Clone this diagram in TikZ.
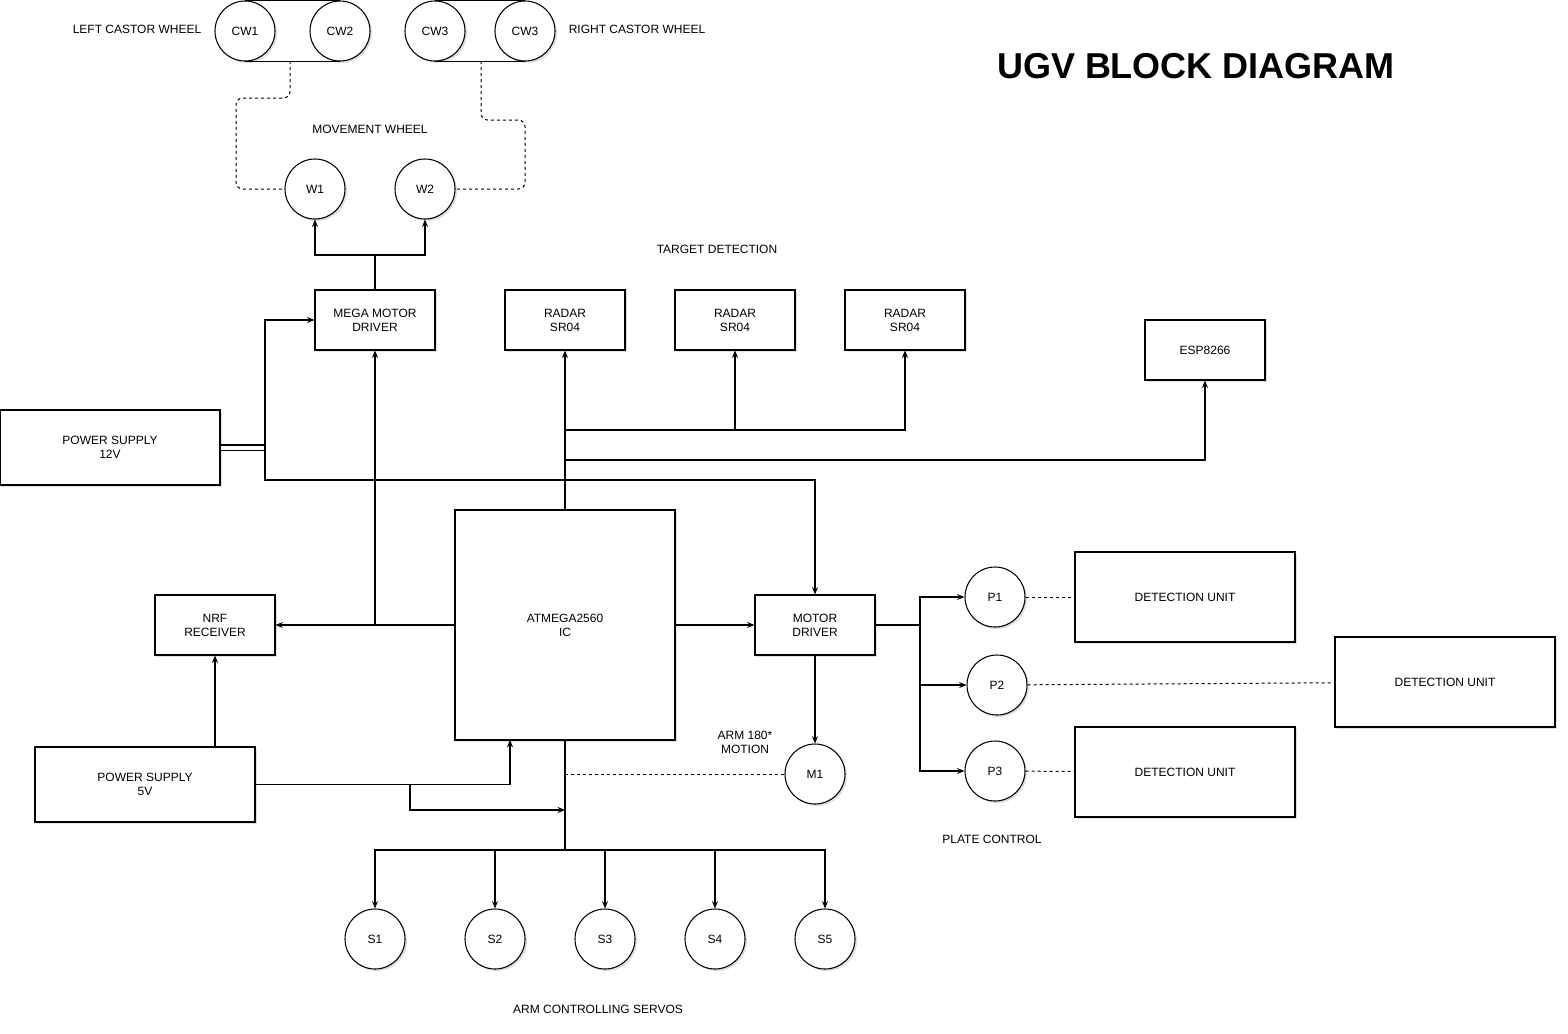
\documentclass[tikz,border=0pt]{standalone}
\usepackage{fontspec}
\setmainfont{Liberation Sans}
\usetikzlibrary{positioning,shadows,arrows.meta}

\begin{document}
\begin{tikzpicture}[x=0.75pt,y=-0.75pt,->,>={Stealth[length=5.5pt,width=4.5pt]},thick,
    box node/.style={draw,rectangle,fill=white,align=center,minimum width=90pt,minimum height=45pt,font=\fontsize{9}{10.5}\selectfont,drop shadow={shadow xshift=1.5pt,shadow yshift=-1.5pt,opacity=0.25}},
    wheel node/.style={draw,circle,fill=white,minimum size=45pt,inner sep=0pt,font=\fontsize{9}{10.5}\selectfont,drop shadow={shadow xshift=1.5pt,shadow yshift=-1.5pt,opacity=0.25}},
    text node/.style={align=center,font=\fontsize{9}{10.5}\selectfont},
    dash link/.style={-,line width=0.75pt,dash pattern=on 2.25pt off 2.25pt,rounded corners=5pt}]
    \useasboundingbox (0,0) rectangle (1568,1033);

    % title and captions
    \node[font=\fontsize{27}{32}\selectfont\bfseries] (title) at (1196,66) {UGV BLOCK DIAGRAM};
    \node[text node] (leftcap) at (137,29) {LEFT CASTOR WHEEL};
    \node[text node] (rightcap) at (637,29) {RIGHT CASTOR WHEEL};
    \node[text node] (movecap) at (370,129) {MOVEMENT WHEEL};
    \node[text node] (targetcap) at (717,249) {TARGET DETECTION};
    \node[text node] (armcap) at (745,742) {ARM 180*\\MOTION};
    \node[text node] (platecap) at (992,839) {PLATE CONTROL};
    \node[text node] (servocap) at (598,1009) {ARM CONTROLLING SERVOS};

    % castor wheels
    \node[wheel node] (cw1) at (245,31) {CW1};
    \node[wheel node] (cw2) at (340,31) {CW2};
    \node[wheel node] (cw3) at (435,31) {CW3};
    \node[wheel node] (cw4) at (525,31) {CW3};
    \draw[-] (cw1.north) -- (cw2.north) (cw1.south) -- (cw2.south);
    \draw[-] (cw3.north) -- (cw4.north) (cw3.south) -- (cw4.south);
    \coordinate (lc) at (290,61);
    \coordinate (rc) at (481,61);

    % movement wheels
    \node[wheel node] (w1) at (315,189) {W1};
    \node[wheel node] (w2) at (425,189) {W2};

    % blocks
    \node[box node] (mega) at (375,320) {MEGA MOTOR\\DRIVER};
    \node[box node] (radar1) at (565,320) {RADAR\\SR04};
    \node[box node] (radar2) at (735,320) {RADAR\\SR04};
    \node[box node] (radar3) at (905,320) {RADAR\\SR04};
    \node[box node] (esp) at (1205,350) {ESP8266};
    \node[box node, minimum width=165pt, minimum height=56.25pt] (ps12) at (110,447.5) {POWER SUPPLY\\12V};
    \node[box node, minimum width=165pt, minimum height=172.5pt] (atm) at (565,625) {ATMEGA2560\\IC};
    \node[box node] (nrf) at (215,625) {NRF\\RECEIVER};
    \node[box node] (motor) at (815,625) {MOTOR\\DRIVER};
    \node[box node, minimum width=165pt, minimum height=56.25pt] (ps5) at (145,784.5) {POWER SUPPLY\\5V};
    \node[wheel node] (m1) at (815,774) {M1};
    \node[wheel node] (p1) at (995,597) {P1};
    \node[wheel node] (p2) at (997,685) {P2};
    \node[wheel node] (p3) at (995,771) {P3};
    \node[box node, minimum width=165pt, minimum height=67.5pt] (du1) at (1185,597) {DETECTION UNIT};
    \node[box node, minimum width=165pt, minimum height=67.5pt] (du2) at (1445,682) {DETECTION UNIT};
    \node[box node, minimum width=165pt, minimum height=67.5pt] (du3) at (1185,772) {DETECTION UNIT};
    \foreach \n/\x in {s1/375,s2/495,s3/605,s4/715,s5/825}
        \node[wheel node] (\n) at (\x,939) {\MakeUppercase{\n}};

    % junctions
    \coordinate (wj) at (375,255);
    \coordinate (j12) at (265,447.5);
    \coordinate (rj) at (565,430);
    \coordinate (ej) at (565,460);
    \coordinate (nj) at (375,625);
    \coordinate (pin) at (510,740);
    \coordinate (pb) at (410,784.5);
    \coordinate (sj) at (565,810);
    \coordinate (mj) at (565,774);
    \coordinate (bus) at (565,850);
    \coordinate (pj) at (920,625);

    % wheel links
    \draw[dash link] (lc) -- ++(0,37) -- ++(-54,0) |- (w1);
    \draw[dash link] (rc) -- ++(0,59) -- ++(44,0) |- (w2);
    \draw[-] (mega) -- (wj);
    \draw (wj) -| (w1);
    \draw (wj) -| (w2);

    % power 12V
    \draw[-,double,double distance=3pt] (ps12.east) -- (j12);
    \draw (j12) |- (mega);
    \draw (j12) -- ++(0,32.5) -| (motor);

    % controller links
    \draw (atm) -- (radar1);
    \draw (rj) -| (radar2);
    \draw (rj) -| (radar3);
    \draw (ej) -| (esp);
    \draw (atm) -- (nrf);
    \draw (nj) -- (mega);
    \draw (atm) -- (motor);
    \draw (motor) -- (m1);
    \draw[dash link] (m1) -- (mj);

    % power 5V
    \draw (nrf |- ps5.north) -- (nrf);
    \draw (ps5.east) -| (pin);
    \draw (pb) |- (sj);

    % servos
    \draw[-] (atm.south) -- (bus);
    \foreach \n in {s1,s2,s3,s4,s5}
        \draw (bus) -| (\n);

    % plates
    \draw[-] (motor) -- (pj);
    \foreach \n in {p1,p2,p3}
        \draw (pj) |- (\n);
    \draw[dash link] (p1) -- (du1);
    \draw[dash link] (p2) -- (du2);
    \draw[dash link] (p3) -- (du3);
\end{tikzpicture}
\end{document}
